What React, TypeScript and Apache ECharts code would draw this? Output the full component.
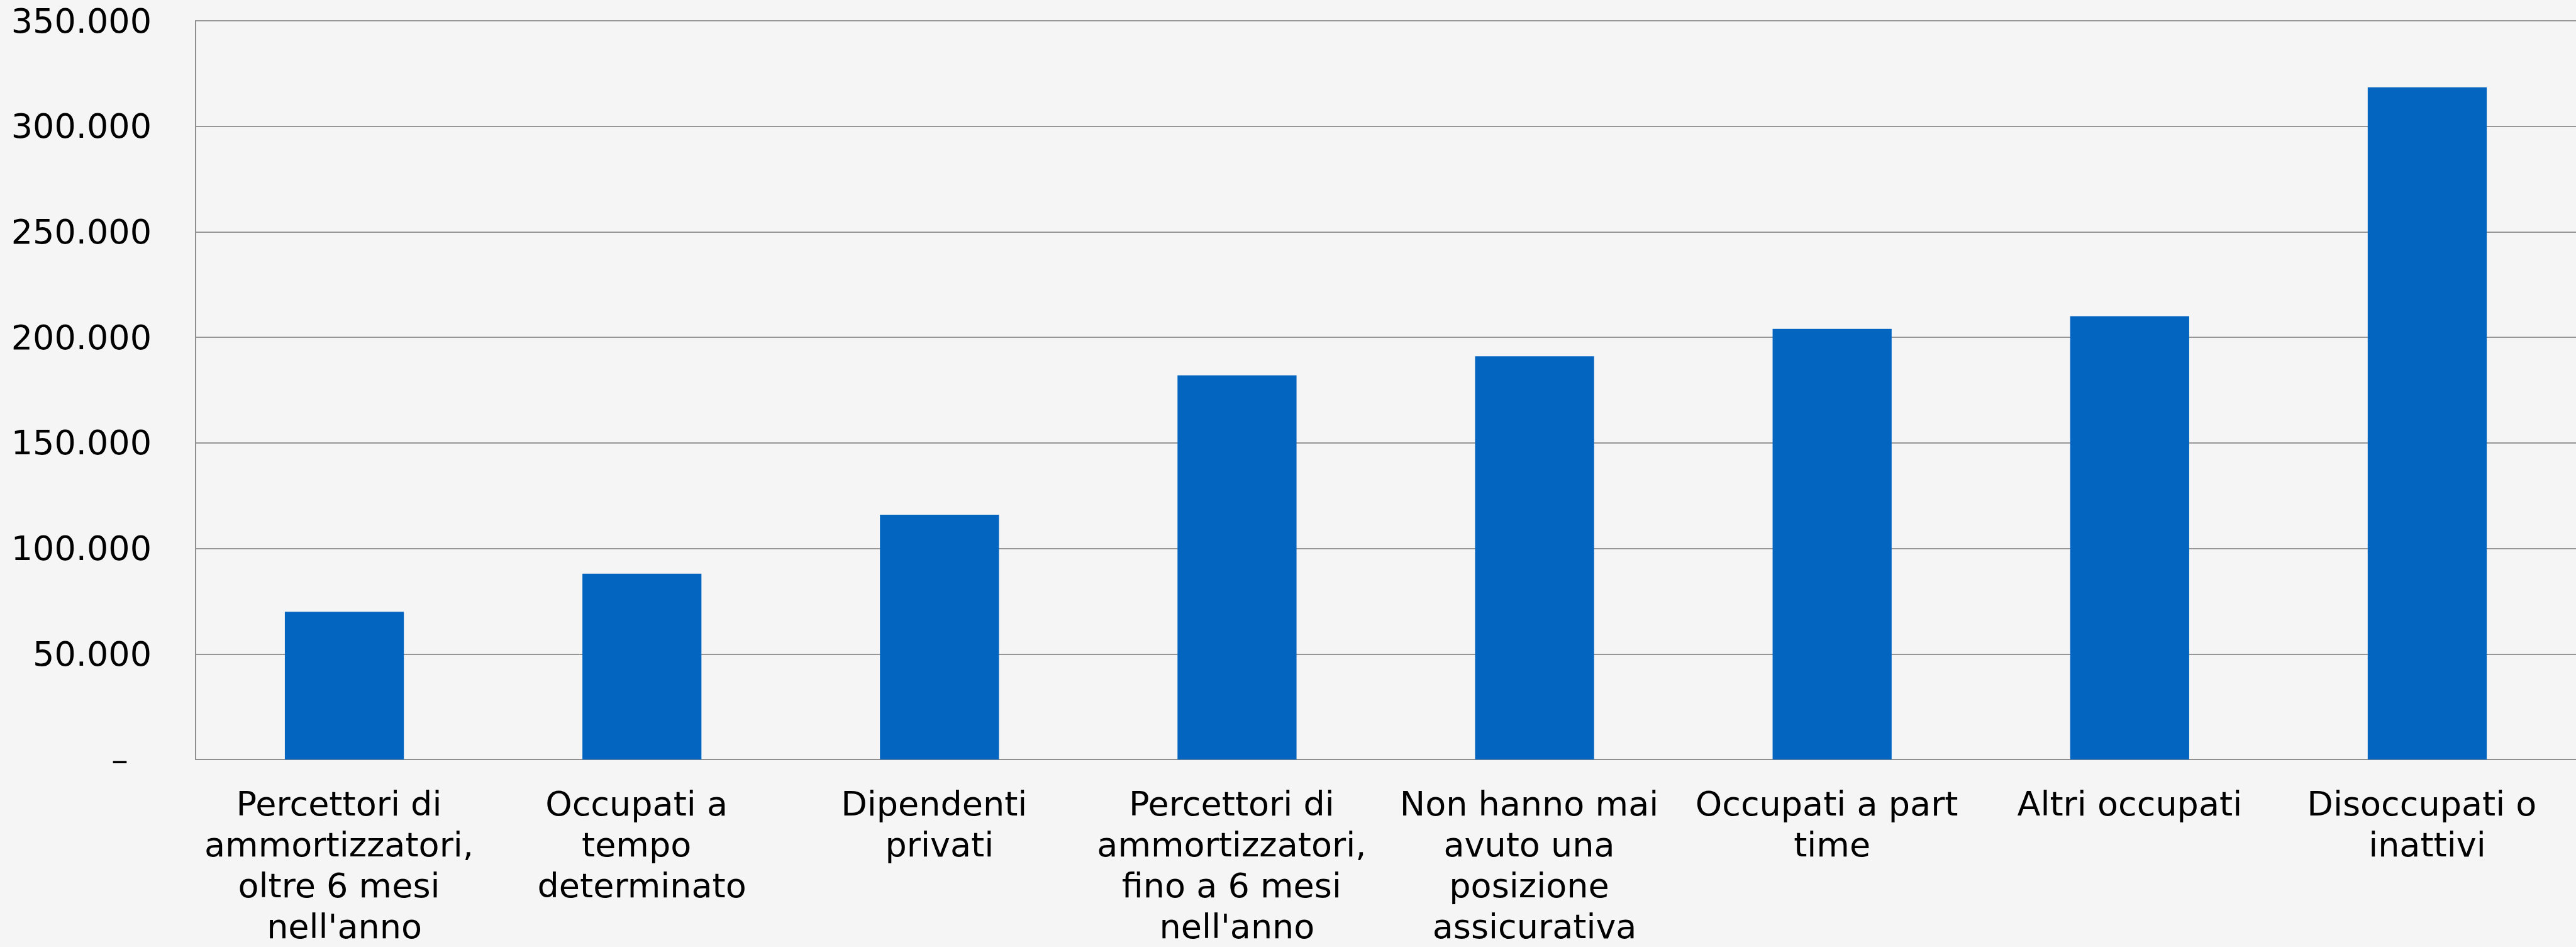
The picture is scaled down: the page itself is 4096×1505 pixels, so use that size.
import React, { useEffect, useRef } from "react";
import * as echarts from "echarts";

const categories = [
  "Percettori di ammortizzatori, oltre 6 mesi nell'anno",
  "Occupati a tempo determinato",
  "Dipendenti privati",
  "Percettori di ammortizzatori, fino a 6 mesi nell'anno",
  "Non hanno mai avuto una posizione assicurativa",
  "Occupati a part time",
  "Altri occupati",
  "Disoccupati o inattivi",
];
const values = [70000, 88000, 116000, 182000, 191000, 204000, 210000, 318500];
const yMin = 0;
const yMax = 350000;
const yInterval = 50000;

const fmt = (v: number) =>
  v === 0 ? "{z|–}" : String(v).replace(/\B(?=(\d{3})+(?!\d))/g, ".");

export default function App() {
  const ref = useRef<HTMLDivElement>(null);
  useEffect(() => {
    if (!ref.current) return;
    document.documentElement.style.overflow = "hidden";
    document.body.style.margin = "0";
    document.body.style.overflow = "hidden";
    document.body.style.background = "#f5f5f5";
    const chart = echarts.init(ref.current, null, { renderer: "svg", width: 4096, height: 1505 });
    const font = "DejaVu Sans";
    chart.setOption({
      animation: false,
      backgroundColor: "#f5f5f5",
      grid: { left: 311, right: 0, top: 33, bottom: 1505 - 1210 },
      xAxis: {
        type: "category",
        data: categories,
        axisLine: { show: true, lineStyle: { color: "#8f8f8f", width: 2 } },
        axisTick: { show: false },
        axisLabel: {
          interval: 0,
          color: "#000",
          fontFamily: font,
          fontSize: 54,
          lineHeight: 65,
          margin: 38,
          width: 450,
          overflow: "break",
          align: "center",
        },
      },
      yAxis: {
        type: "value",
        min: yMin,
        max: yMax,
        interval: yInterval,
        axisLine: { show: true, lineStyle: { color: "#8f8f8f", width: 2 } },
        axisTick: { show: false },
        splitLine: { show: true, lineStyle: { color: "#979797", width: 2 } },
        axisLabel: {
          color: "#000",
          fontFamily: font,
          fontSize: 54,
          margin: 70,
          formatter: fmt,
          rich: {
            z: {
              color: "#000",
              fontFamily: font,
              fontSize: 54,
              padding: [0, 37, 0, 0],
            },
          },
        },
      },
      series: [
        {
          type: "bar",
          data: values,
          barWidth: "40%",
          itemStyle: { color: "#0365c0" },
        },
      ],
    });
    return () => chart.dispose();
  }, []);
  return (
    <div
      ref={ref}
      style={{ position: "fixed", left: 0, top: 0, width: 4096, height: 1505 }}
    />
  );
}
